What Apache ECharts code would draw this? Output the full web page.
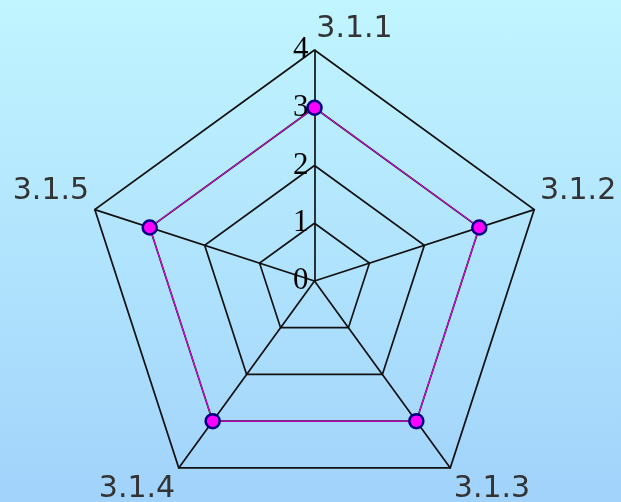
<!DOCTYPE html>
<html>
<head>
<meta charset="utf-8">
<script src="https://cdn.jsdelivr.net/npm/echarts@6/dist/echarts.min.js"></script>
<style>
  html, body { margin: 0; padding: 0; }
  #chart { width: 621px; height: 502px; background: linear-gradient(#c1f5ff, #a1d3fb); }
</style>
</head>
<body>
<div id="chart"></div>
<script>
// Radar: five indicators, scale 0–4, one series at 3 (drawn clockwise from the top)
const indicadores = ["3.1.1", "3.1.2", "3.1.3", "3.1.4", "3.1.5"];
const valores = [3, 3, 3, 3, 3];
const maximo = 4;

// echarts goes counter-clockwise, so keep the first and flip the rest
const ordem = [0, 4, 3, 2, 1];
// which rich token nudges each name (up for the sides, down for the bottom)
const estiloNome = { "3.1.1": "t", "3.1.2": "up", "3.1.5": "up", "3.1.3": "dn", "3.1.4": "dn" };

const fonteNome = { color: "#333", fontFamily: "DejaVu Sans", fontSize: 30 };

const g = echarts.init(document.getElementById("chart"));

g.setOption({
  animation: false,
  radar: {
    center: [314.5, 281],
    radius: 231,
    startAngle: 90,
    splitNumber: 4,
    shape: "polygon",
    indicator: ordem.map((k, i) => ({
      name: indicadores[k],
      max: maximo,
      min: 0,
      axisLabel: { show: i === 0 },
      nameGap: 6,
      // top name sits to the right of the vertex
      nameTextStyle: i === 0 ? { padding: [0, 0, 0, 80] } : {},
    })),
    axisName: Object.assign({
      formatter: (n) => `{${estiloNome[n]}|${n}}`,
      rich: {
        t: fonteNome,
        up: Object.assign({ padding: [0, 0, 34, 0] }, fonteNome),
        dn: Object.assign({ padding: [32, 0, 0, 0] }, fonteNome),
      },
    }, fonteNome),
    axisLine: { lineStyle: { color: "#111", width: 1.7 } },
    splitLine: { lineStyle: { color: "#111", width: 1.7 } },
    splitArea: { show: false },
    axisTick: { show: false },
    axisLabel: {
      show: true,
      color: "#000",
      fontFamily: "Liberation Serif",
      fontSize: 31,
      margin: 6,
    },
  },
  series: [{
    type: "radar",
    symbol: "circle",
    symbolSize: 14,
    lineStyle: { color: "#ff00ff", width: 1 },
    itemStyle: { color: "#ff00ff", borderColor: "#000080", borderWidth: 2.5 },
    data: [{ value: ordem.map(k => valores[k]) }],
  }],
});
</script>
</body>
</html>
